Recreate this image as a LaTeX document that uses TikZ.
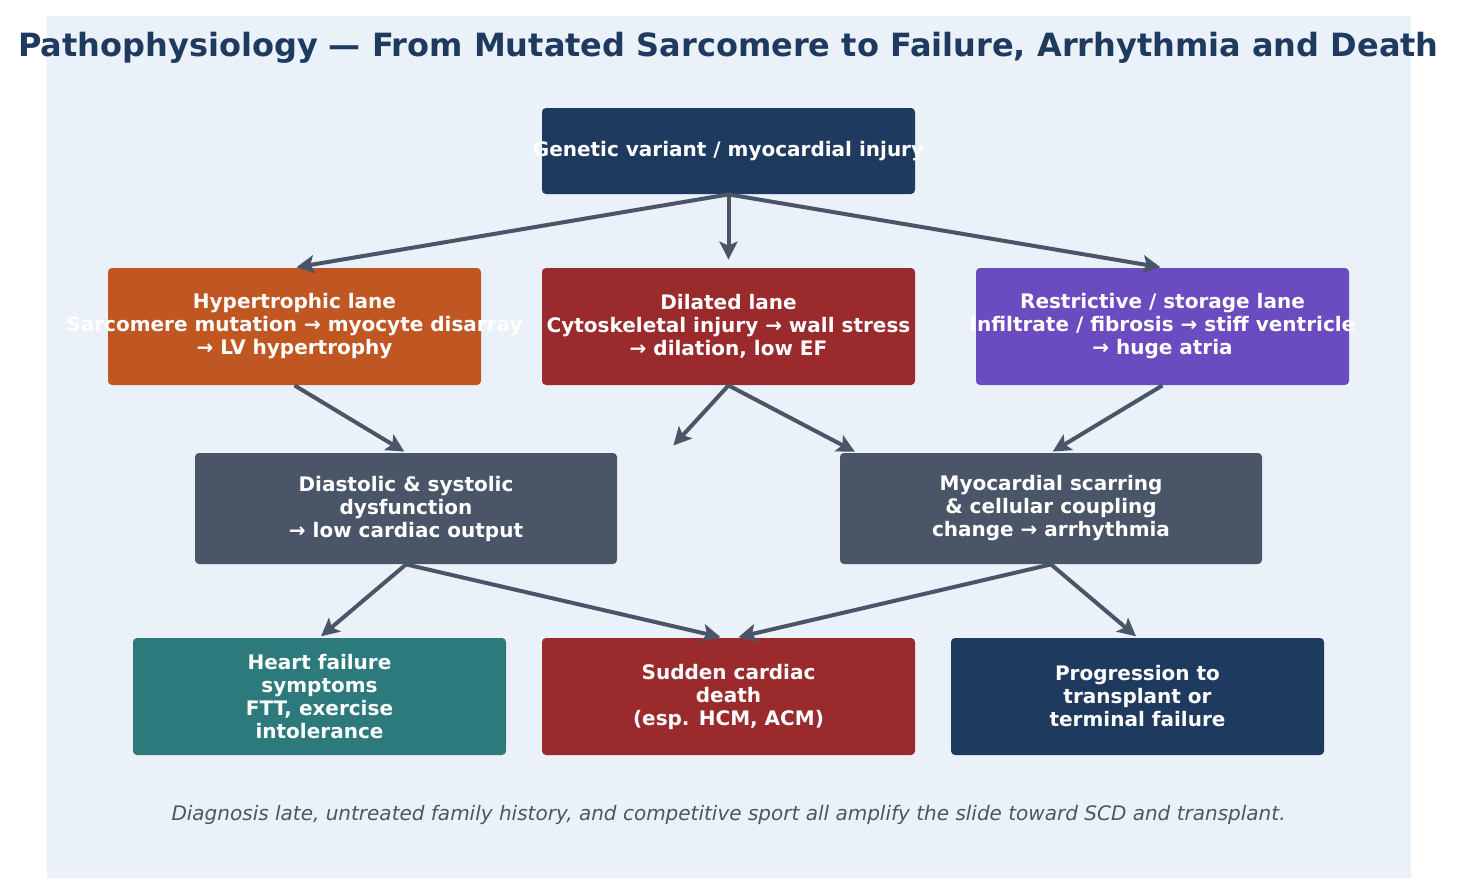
\documentclass[tikz,border=0pt]{standalone}
\usepackage{fontspec}
\setmainfont{DejaVu Sans}
\usetikzlibrary{arrows.meta}
\definecolor{panel}{HTML}{EBF1F8}
\definecolor{navy}{HTML}{1F3A5F}
\definecolor{rust}{HTML}{C05621}
\definecolor{wine}{HTML}{9B2A2D}
\definecolor{violet}{HTML}{6B4BC0}
\definecolor{slate}{HTML}{4A5568}
\definecolor{teal}{HTML}{2C7A7B}
\tikzset{
	box/.style={rounded corners=2pt,inner sep=0pt},
	txt/.style={text=white,font=\bfseries\fontsize{10}{11.5}\selectfont,align=center},
	arr/.style={draw=slate,line width=2pt,-{Stealth[length=9pt,width=9pt,inset=2pt]},shorten >=1pt}
}
\begin{document}
\begin{tikzpicture}[x=0.5pt,y=-0.5pt]
			\useasboundingbox (0,0) rectangle (1457,894);
			\fill[panel] (47,16) rectangle (1411,878);
			\node[text=navy,font=\bfseries\fontsize{16}{19}\selectfont] (ttl) at (728.5,48) {Pathophysiology — From Mutated Sarcomere to Failure, Arrhythmia and Death};
			% boxes
			\foreach \n/\x/\y/\w/\h/\c in {top/728.5/151/186.5/43/navy,hyp/294.5/326.5/186.5/58.5/rust,dil/728.5/326.5/186.5/58.5/wine,res/1162.5/326.5/186.5/58.5/violet,dys/406/508.5/211/55.5/slate,scar/1051/508.5/211/55.5/slate,hf/319.5/696.5/186.5/58.5/teal,scd/728.5/696.5/186.5/58.5/wine,prog/1137.5/696.5/186.5/58.5/navy}
			\node[box,fill=\c,minimum width=\w pt,minimum height=\h pt] (\n) at (\x,\y) {};
			\foreach \n/\t in {top/{Genetic variant / myocardial injury},hyp/{Hypertrophic lane\\Sarcomere mutation → myocyte disarray\\→ LV hypertrophy},dil/{Dilated lane\\Cytoskeletal injury → wall stress\\→ dilation, low EF},res/{Restrictive / storage lane\\Infiltrate / fibrosis → stiff ventricle\\→ huge atria},dys/{Diastolic \& systolic\\dysfunction\\→ low cardiac output},scar/{Myocardial scarring\\\& cellular coupling\\change → arrhythmia},hf/{Heart failure\\symptoms\\FTT, exercise\\intolerance},scd/{Sudden cardiac\\death\\(esp. HCM, ACM)},prog/{Progression to\\transplant or\\terminal failure}}
			\node[txt] (\n-t) at (\n) {\t};
			% arrows
			\coordinate (gap) at (672,447);
			\foreach \a/\b in {top/hyp,top/res,hyp/dys,res/scar,dys/hf,scar/prog}\draw[arr] (\a.south)--(\b.north);
			\draw[arr,shorten >=4pt] (top.south)--(dil.north);
			\draw[arr] (dil.south)--(gap);
			\draw[arr] (dil.south)--([xshift=8.5pt]scar.north west);
			\draw[arr] (dys.south)--([xshift=-3pt]scd.north);
			\draw[arr] (scar.south)--([xshift=4pt]scd.north);
			\node[text=slate,font=\itshape\fontsize{10}{12}\selectfont] (note) at (728.5,815) {Diagnosis late, untreated family history, and competitive sport all amplify the slide toward SCD and transplant.};
		\end{tikzpicture}
\end{document}
